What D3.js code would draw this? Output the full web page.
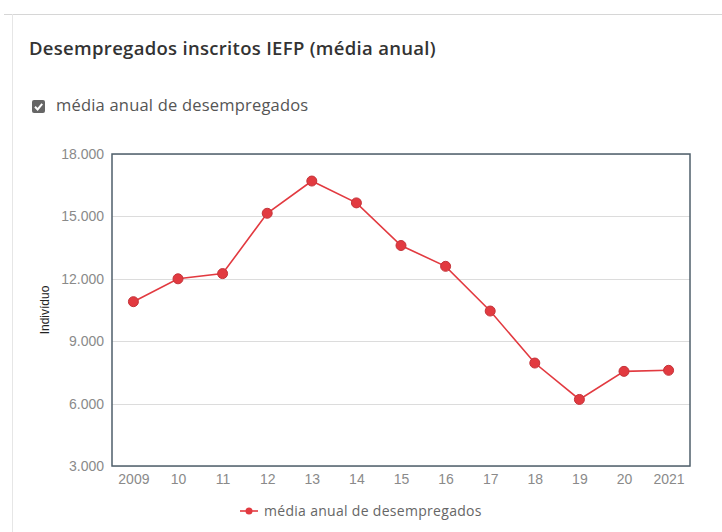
<!DOCTYPE html>
<html>
<head>
<meta charset="utf-8">
<script src="https://cdn.jsdelivr.net/npm/d3@7"></script>
<style>
  body { margin: 0; background: #fff; }
  svg { display: block; }
</style>
</head>
<body>
<div id="chart"></div>
<script>
var years = ["2009", "10", "11", "12", "13", "14", "15", "16", "17", "18", "19", "20", "2021"];
var desempregados = [10900, 12000, 12250, 15150, 16700, 15650, 13600, 12600, 10450, 7950, 6200, 7550, 7600];
var yTicks = [3000, 6000, 9000, 12000, 15000, 18000];
var seriesName = "média anual de desempregados";

var width = 722, height = 532;
var plot = {left: 112, right: 690, top: 154, bottom: 466};
var red = "#e23a40";

var svg = d3.select("#chart").append("svg")
    .attr("width", width)
    .attr("height", height);

// card borders
svg.append("line").attr("x1", 4).attr("x2", width).attr("y1", 14.5).attr("y2", 14.5)
    .attr("stroke", "#d6d6d6");
svg.append("line").attr("x1", 12.5).attr("x2", 12.5).attr("y1", 14).attr("y2", height)
    .attr("stroke", "#e6e6e6");

svg.append("text")
    .attr("x", 29).attr("y", 55)
    .attr("font-family", "Open Sans, sans-serif")
    .attr("font-size", 18.5).attr("font-weight", 600)
    .attr("letter-spacing", 0.3)
    .attr("fill", "#333")
    .text("Desempregados inscritos IEFP (média anual)");

// checkbox
var cb = svg.append("g").attr("transform", "translate(32,100)");
cb.append("rect").attr("width", 13).attr("height", 13).attr("rx", 2).attr("fill", "#666");
cb.append("path").attr("d", "M3 6.8 L5.6 9.4 L10.2 3.8")
    .attr("fill", "none").attr("stroke", "#fff").attr("stroke-width", 2);
svg.append("text")
    .attr("x", 56).attr("y", 111)
    .attr("font-family", "Open Sans, sans-serif")
    .attr("font-size", 16.5).attr("letter-spacing", 0.2).attr("fill", "#555")
    .text(seriesName);

var x = d3.scalePoint()
    .domain(years)
    .range([plot.left, plot.right])
    .padding(0.48);

var y = d3.scaleLinear()
    .domain([3000, 18000])
    .range([plot.bottom, plot.top]);

var fmt = function(v) { return d3.format(",")(v).replace(/,/g, "."); };

// grid
svg.append("g")
    .selectAll("line")
    .data(yTicks)
    .enter().append("line")
    .attr("x1", plot.left).attr("x2", plot.right)
    .attr("y1", function(d) { return Math.round(y(d)) + 0.5; })
    .attr("y2", function(d) { return Math.round(y(d)) + 0.5; })
    .attr("stroke", "#dcdcdc");

var yAxis = svg.append("g")
    .attr("transform", "translate(" + (plot.left - 5) + ",0)")
    .call(d3.axisLeft(y).tickValues(yTicks).tickFormat(fmt).tickSize(0));
yAxis.select(".domain").remove();
yAxis.selectAll("text")
    .attr("font-family", "Liberation Sans, Arial, sans-serif")
    .attr("font-size", 14).attr("fill", "#8a8a8a");

var xAxis = svg.append("g")
    .attr("transform", "translate(0," + (plot.bottom + 5) + ")")
    .call(d3.axisBottom(x).tickSize(0));
xAxis.select(".domain").remove();
xAxis.selectAll("text")
    .attr("font-family", "Liberation Sans, Arial, sans-serif")
    .attr("font-size", 14).attr("fill", "#8a8a8a");

svg.append("text")
    .attr("transform", "translate(49," + ((plot.top + plot.bottom) / 2) + ") rotate(-90)")
    .attr("text-anchor", "middle")
    .attr("font-family", "Liberation Sans, Arial, sans-serif")
    .attr("font-size", 12).attr("fill", "#222")
    .text("Indivíduo");

// plot frame
svg.append("rect")
    .attr("x", plot.left).attr("y", plot.top)
    .attr("width", plot.right - plot.left).attr("height", plot.bottom - plot.top)
    .attr("fill", "none").attr("stroke", "#4f5f6b").attr("stroke-width", 1.5);

var line = d3.line()
    .x(function(d, i) { return x(years[i]); })
    .y(function(d) { return y(d); });

svg.append("path")
    .attr("d", line(desempregados))
    .attr("fill", "none")
    .attr("stroke", red)
    .attr("stroke-width", 1.6);

svg.selectAll(".dot")
    .data(desempregados)
    .enter().append("circle")
    .attr("class", "dot")
    .attr("cx", function(d, i) { return x(years[i]); })
    .attr("cy", function(d) { return y(d); })
    .attr("r", 5)
    .attr("fill", red)
    .attr("stroke", "#c4343a")
    .attr("stroke-width", 1);

// legend
var lg = svg.append("g").attr("transform", "translate(240,511)");
lg.append("line").attr("x1", 0).attr("x2", 18).attr("y1", 0).attr("y2", 0)
    .attr("stroke", red).attr("stroke-width", 1.6);
lg.append("circle").attr("cx", 9).attr("cy", 0).attr("r", 3.5).attr("fill", red);
lg.append("text")
    .attr("x", 24).attr("y", 5)
    .attr("font-family", "Open Sans, sans-serif")
    .attr("font-size", 14).attr("letter-spacing", 0.3).attr("fill", "#666")
    .text(seriesName);
</script>
</body>
</html>
